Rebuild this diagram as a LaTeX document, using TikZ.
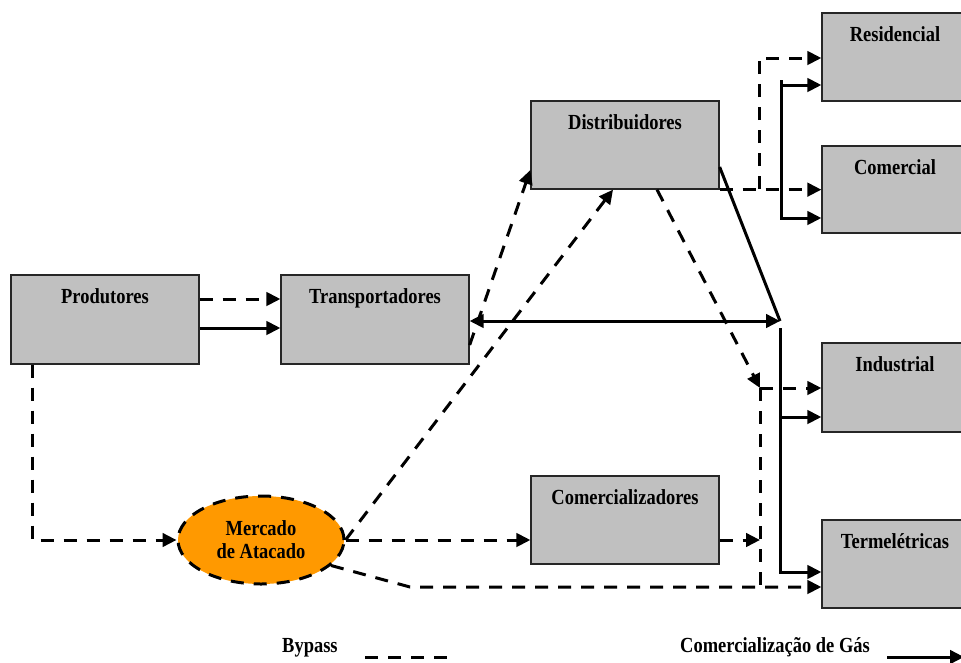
\documentclass[tikz,border=0pt]{standalone}
\usepackage{fontspec}
\newfontfamily\dfont[FakeStretch=0.86]{Liberation Serif}
\usetikzlibrary{arrows.meta,shapes.geometric}
\definecolor{boxgray}{HTML}{C0C0C0}
\definecolor{orng}{HTML}{FF9900}
\begin{document}
\begin{tikzpicture}[x=1pt,y=-1pt,
  >={Triangle[length=14pt,width=13.5pt]},
  box/.style={draw=black!85, line width=1.3pt, fill=boxgray, minimum width=188pt, minimum height=88pt, inner sep=0pt},
  rbox/.style={box, minimum width=146pt},
  txt/.style={font=\dfont\bfseries\fontsize{21.5}{23}\selectfont, inner sep=0pt, anchor=base},
  solidln/.style={line width=3pt},
  dashln/.style={line width=3pt, dash pattern=on 13pt off 10pt}]
\useasboundingbox (0,0) rectangle (961,662);
\clip (0,0) rectangle (961,662);

% boxes
\node[box, minimum height=89pt] (prod) at (105,319.5) {};
\node[box, minimum height=89pt] (trans) at (375,319.5) {};
\node[box] (dist) at (625,145) {};
\node[box] (comz) at (625,520) {};
\node[rbox] (res) at (895,57) {};
\node[rbox, minimum height=87pt] (com) at (895,189.5) {};
\node[rbox, minimum height=89pt] (ind) at (895,387.5) {};
\node[rbox] (term) at (895,564) {};
\node[ellipse, draw, dashln, fill=orng, minimum width=166pt, minimum height=88pt, inner sep=0pt] (merc) at (261,540) {};

% labels
\node[txt] (prodT) at ([yshift=-29pt]prod.north) {Produtores};
\node[txt] (transT) at ([yshift=-29pt]trans.north) {Transportadores};
\node[txt] (distT) at ([yshift=-29pt]dist.north) {Distribuidores};
\node[txt] (comzT) at ([yshift=-29pt]comz.north) {Comercializadores};
\node[txt] (resT) at ([yshift=-29pt]res.north) {Residencial};
\node[txt] (comT) at ([yshift=-29pt]com.north) {Comercial};
\node[txt] (indT) at ([yshift=-29pt]ind.north) {Industrial};
\node[txt] (termT) at ([yshift=-29pt]term.north) {Termelétricas};
\node[txt] (mercT1) at (261,535) {Mercado};
\node[txt] (mercT2) at (261,558) {de Atacado};

% helper coordinates
\coordinate (vd) at (760,388);
\coordinate (bk) at (410,587);
\coordinate (rb) at (759,189);
\coordinate (jt) at (780,321);
\coordinate (lb) at (780,328);
\coordinate (ub) at (781,80);
\coordinate (ind2) at ([yshift=-29.5pt]ind.west);
\coordinate (term2) at ([yshift=-8pt]term.west);
\coordinate (res2) at ([yshift=-28pt]res.west);
\coordinate (com2) at ([yshift=-28.5pt]com.west);

% dashed connectors (bypass)
\draw[dashln,->] ([yshift=20.5pt]prod.east) -- ([yshift=20.5pt]trans.west);
\draw[dashln,->] ([xshift=-73pt]prod.south) |- (merc.west);
\draw[dashln,->] (merc.east) -- (merc.east -| comz.west);
\draw[dashln,->] (merc.east) -- ([xshift=-12pt]dist.south);
\draw[dashln,->] ([yshift=-25.5pt]trans.east) -- ([yshift=-25pt]dist.west);
\draw[dashln,->] ([xshift=32pt]dist.south) -- (vd);
\draw[dashln,->] (vd) -- (vd -| ind.west);
\draw[dashln] (vd) -- (vd |- bk);
\draw[dashln,->] (comz.east |- merc.east) -- (merc.east -| vd);
\draw[dashln,->] (merc.-20) -- (bk) -- (bk -| term.west);
\draw[dashln,->] (dist.south east) -- (dist.south east -| com.west);
\draw[dashln,->] (rb) |- ([yshift=-1pt]res.west);

% solid connectors (comercializacao)
\draw[solidln,->] ([yshift=-8.5pt]prod.east) -- ([yshift=-8.5pt]trans.west);
\draw[solidln] ([yshift=-22pt]dist.east) -- (jt);
\draw[solidln,<->] (trans.east |- jt) -- (jt);
\draw[solidln,->] (lb) |- (term2);
\draw[solidln,->] (lb |- ind2) -- (ind2);
\draw[solidln,->] (ub) |- (com2);
\draw[solidln,->] (ub |- res2) -- (res2);

% legend
\node[txt, anchor=base west] (lgB) at (282,652) {Bypass};
\coordinate (lg1) at (365,657);
\coordinate (lg2) at (447,657);
\draw[dashln] (lg1) -- (lg2);
\node[txt, anchor=base west] (lgC) at (680,652) {Comercialização de Gás};
\coordinate (lg3) at (887,657);
\coordinate (lg4) at (964,657);
\draw[solidln,->] (lg3) -- (lg4);
\end{tikzpicture}
\end{document}
